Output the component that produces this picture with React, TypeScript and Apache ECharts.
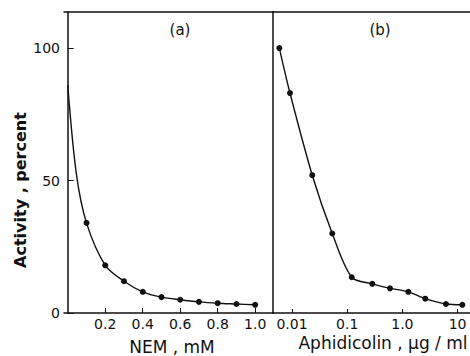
import React, { useEffect, useRef } from "react";
import * as echarts from "echarts";

// Panel (a): NEM concentration (mM) vs activity (%)
// first two entries are unmarked points where the drawn curve leaves the axis
const nemConc = [0, 0.045, 0.1, 0.2, 0.3, 0.4, 0.5, 0.6, 0.7, 0.8, 0.9, 1.0];
const nemActivity = [86, 53, 34, 18, 12, 8, 6, 5, 4.2, 3.7, 3.4, 3.1];
const nemUnmarked = 2;

// Panel (b): Aphidicolin concentration (ug/ml, log) vs activity (%)
const aphConc = [0.0059, 0.0092, 0.0233, 0.0537, 0.121, 0.285, 0.596, 1.28, 2.6, 6.17, 12.2];
const aphActivity = [100, 83, 52, 30, 13.5, 11, 9.3, 8, 5.4, 3.4, 3.1];

const yTicks = [0, 50, 100];
const nemTicks = [0.2, 0.4, 0.6, 0.8, 1.0];
const nemTickLabels = ["0.2", "0.4", "0.6", "0.8", "1.0"];
const aphTicks = [0.01, 0.1, 1, 10];
const aphTickLabels = ["0.01", "0.1", "1.0", "10"];

const INK = "#111";
const FONT = "DejaVu Sans";

export default function App() {
  const ref = useRef<HTMLDivElement>(null);
  useEffect(() => {
    if (!ref.current) return;
    const chart = echarts.init(ref.current, null, { renderer: "svg" });
    const axisLine = { show: true, lineStyle: { color: INK, width: 1.5 } };
    const labelStyle = { color: INK, fontFamily: FONT, fontSize: 14 };

    const nemData = nemConc.map((x, i) =>
      i < nemUnmarked ? { value: [x, nemActivity[i]], symbol: "none" } : [x, nemActivity[i]]
    );
    const aphData = aphConc.map((x, i) => [x, aphActivity[i]]);

    chart.setOption({
      animation: false,
      backgroundColor: "#fff",
      grid: [
        { left: 64, top: 12, width: 209, height: 301 },
        { left: 273, top: 12, width: 197, height: 301 },
      ],
      xAxis: [
        {
          type: "value",
          gridIndex: 0,
          min: -0.02,
          max: 1.095,
          axisLine,
          splitLine: { show: false },
          axisTick: { show: true, inside: true, length: 5, customValues: nemTicks, lineStyle: { color: INK } },
          axisLabel: {
            ...labelStyle,
            margin: 4,
            customValues: nemTicks,
            formatter: (v: number) => {
              const i = nemTicks.findIndex((t) => Math.abs(t - v) < 1e-6);
              return i >= 0 ? nemTickLabels[i] : "";
            },
          },
        },
        {
          type: "log",
          gridIndex: 1,
          logBase: 10,
          min: 0.00453,
          max: 16.8,
          axisLine,
          splitLine: { show: false },
          minorTick: { show: false },
          axisTick: { show: true, inside: true, length: 4, lineStyle: { color: INK } },
          axisLabel: {
            ...labelStyle,
            margin: 4,
            showMinLabel: false,
            showMaxLabel: false,
            formatter: (v: number) => {
              const i = aphTicks.findIndex((t) => Math.abs(Math.log10(t) - Math.log10(v)) < 0.01);
              return i >= 0 ? aphTickLabels[i] : "";
            },
          },
        },
        {
          type: "value",
          gridIndex: 0,
          position: "top",
          min: 0,
          max: 1,
          axisLine,
          axisTick: { show: false },
          axisLabel: { show: false },
          splitLine: { show: false },
        },
        {
          type: "value",
          gridIndex: 1,
          position: "top",
          min: 0,
          max: 1,
          axisLine,
          axisTick: { show: false },
          axisLabel: { show: false },
          splitLine: { show: false },
        },
      ],
      yAxis: [
        {
          type: "value",
          gridIndex: 0,
          min: 0,
          max: 113.6,
          axisLine,
          splitLine: { show: false },
          axisTick: { show: true, inside: true, length: 6, customValues: yTicks, lineStyle: { color: INK } },
          axisLabel: { ...labelStyle, margin: 4, customValues: yTicks },
        },
        {
          type: "value",
          gridIndex: 1,
          min: 0,
          max: 113.6,
          axisLine,
          splitLine: { show: false },
          axisTick: { show: false },
          axisLabel: { show: false },
        },
      ],
      series: [
        {
          type: "line",
          xAxisIndex: 0,
          yAxisIndex: 0,
          data: nemData,
          smooth: 0.3,
          symbol: "circle",
          symbolSize: 6,
          lineStyle: { color: INK, width: 1.4 },
          itemStyle: { color: INK },
        },
        {
          type: "line",
          xAxisIndex: 1,
          yAxisIndex: 1,
          data: aphData,
          smooth: 0.3,
          symbol: "circle",
          symbolSize: 6,
          lineStyle: { color: INK, width: 1.4 },
          itemStyle: { color: INK },
        },
      ],
      graphic: [
        {
          type: "text",
          x: 20,
          y: 190,
          rotation: Math.PI / 2,
          style: {
            text: "Activity , percent",
            fill: INK,
            font: `bold 16px "${FONT}"`,
            align: "center",
            verticalAlign: "middle",
          },
        },
        {
          type: "text",
          x: 172,
          y: 347,
          style: { text: "NEM , mM", fill: INK, font: `17px "${FONT}"`, align: "center", verticalAlign: "middle" },
        },
        {
          type: "text",
          x: 383,
          y: 343,
          style: {
            text: "Aphidicolin , μg / ml",
            fill: INK,
            font: `17px "${FONT}"`,
            align: "center",
            verticalAlign: "middle",
          },
        },
        {
          type: "text",
          x: 180,
          y: 30,
          style: { text: "(a)", fill: INK, font: `15px "${FONT}"`, align: "center", verticalAlign: "middle" },
        },
        {
          type: "text",
          x: 380,
          y: 30,
          style: { text: "(b)", fill: INK, font: `15px "${FONT}"`, align: "center", verticalAlign: "middle" },
        },
      ],
    });
    return () => chart.dispose();
  }, []);
  return <div ref={ref} style={{ position: "fixed", left: 0, top: 0, width: 470, height: 356 }} />;
}
